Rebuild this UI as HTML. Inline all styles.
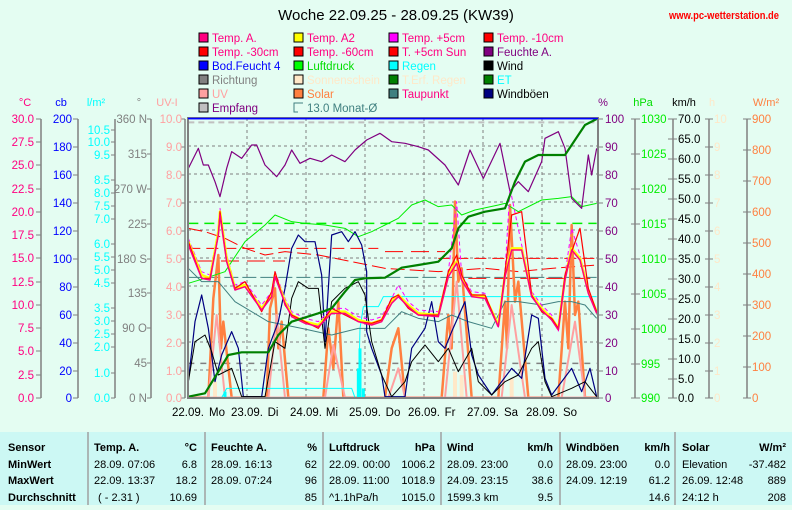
<!DOCTYPE html>
<html><head><meta charset="utf-8"><style>
html,body{margin:0;padding:0;background:#e4fdf2;}
body{width:792px;height:505px;overflow:hidden;position:relative;font-family:"Liberation Sans",sans-serif;}
svg text{font-family:"Liberation Sans",sans-serif;}
</style></head><body>
<svg width="792" height="505" viewBox="0 0 792 505" xmlns="http://www.w3.org/2000/svg">
<rect width="792" height="505" fill="#e4fdf2"/>
<text x="396" y="20" font-size="15" text-anchor="middle" fill="#000">Woche 22.09.25 - 28.09.25 (KW39)</text>
<text x="779" y="19" font-size="11" font-weight="bold" text-anchor="end" fill="#ff0000" textLength="110" lengthAdjust="spacingAndGlyphs">www.pc-wetterstation.de</text>

<!-- legend -->
<g font-size="11.5" stroke="#000" stroke-width="1">
<rect x="199" y="33" width="9" height="9" fill="#ff0080"/><text x="212" y="42" fill="#ff0080" stroke="none">Temp. A.</text>
<rect x="294" y="33" width="9" height="9" fill="#ffff00"/><text x="307" y="42" fill="#ff0080" stroke="none">Temp. A2</text>
<rect x="389" y="33" width="9" height="9" fill="#ff00ff"/><text x="402" y="42" fill="#ff0080" stroke="none">Temp. +5cm</text>
<rect x="484" y="33" width="9" height="9" fill="#ff0000"/><text x="497" y="42" fill="#ff0080" stroke="none">Temp. -10cm</text>
<rect x="199" y="47" width="9" height="9" fill="#ff0000"/><text x="212" y="56" fill="#ff0080" stroke="none">Temp. -30cm</text>
<rect x="294" y="47" width="9" height="9" fill="#ff0000"/><text x="307" y="56" fill="#ff0080" stroke="none">Temp. -60cm</text>
<rect x="389" y="47" width="9" height="9" fill="#ff0000"/><text x="402" y="56" fill="#ff0080" stroke="none">T. +5cm Sun</text>
<rect x="484" y="47" width="9" height="9" fill="#800080"/><text x="497" y="56" fill="#800080" stroke="none">Feuchte A.</text>
<rect x="199" y="61" width="9" height="9" fill="#0000ff"/><text x="212" y="70" fill="#0000ff" stroke="none">Bod.Feucht 4</text>
<rect x="294" y="61" width="9" height="9" fill="#00ff00"/><text x="307" y="70" fill="#00dd00" stroke="none">Luftdruck</text>
<rect x="389" y="61" width="9" height="9" fill="#00ffff"/><text x="402" y="70" fill="#00ffff" stroke="none">Regen</text>
<rect x="484" y="61" width="9" height="9" fill="#000"/><text x="497" y="70" fill="#000" stroke="none">Wind</text>
<rect x="199" y="75" width="9" height="9" fill="#808080"/><text x="212" y="84" fill="#808080" stroke="none">Richtung</text>
<rect x="294" y="75" width="9" height="9" fill="#ffe8c8"/><text x="307" y="84" fill="#ffe8c8" stroke="none">Sonnenschein</text>
<rect x="389" y="75" width="9" height="9" fill="#008000"/><text x="402" y="84" fill="#ffe8c8" stroke="none">T.Erf. Regen</text>
<rect x="484" y="75" width="9" height="9" fill="#008000"/><text x="497" y="84" fill="#00ffff" stroke="none">ET</text>
<rect x="199" y="89" width="9" height="9" fill="#ffa0a0"/><text x="212" y="98" fill="#ffa0a0" stroke="none">UV</text>
<rect x="294" y="89" width="9" height="9" fill="#ff8040"/><text x="307" y="98" fill="#ff8040" stroke="none">Solar</text>
<rect x="389" y="89" width="9" height="9" fill="#408080"/><text x="402" y="98" fill="#ff0080" stroke="none">Taupunkt</text>
<rect x="484" y="89" width="9" height="9" fill="#000080"/><text x="497" y="98" fill="#000" stroke="none">Windböen</text>
<rect x="199" y="103" width="9" height="9" fill="#c0c0c0"/><text x="212" y="112" fill="#800080" stroke="none">Empfang</text>
<path d="M303 103 H294 V112 H298" fill="none" stroke="#408080"/><text x="307" y="112" fill="#408080" stroke="none">13.0 Monat-Ø</text>
</g>

<!-- axis headers -->
<g font-size="11">
<text x="25" y="106" fill="#ff0080" text-anchor="middle">°C</text>
<text x="61" y="106" fill="#0000ff" text-anchor="middle">cb</text>
<text x="96" y="106" fill="#00ffff" text-anchor="middle">l/m²</text>
<text x="139" y="106" fill="#808080" text-anchor="middle">°</text>
<text x="167" y="106" fill="#ffa0a0" text-anchor="middle">UV-I</text>
<text x="603" y="106" fill="#800080" text-anchor="middle">%</text>
<text x="643" y="106" fill="#00dd00" text-anchor="middle">hPa</text>
<text x="684" y="106" fill="#000" text-anchor="middle">km/h</text>
<text x="712" y="106" fill="#ffe8c8" text-anchor="middle">h</text>
<text x="766" y="106" fill="#ff8040" text-anchor="middle">W/m²</text>
</g>

<!-- plot -->
<rect x="188" y="118" width="410" height="280" fill="#e4fdf2"/>
<g stroke="#808080" stroke-dasharray="3,3" stroke-width="1">
<path d="M188 146H598M188 174H598M188 202H598M188 230H598M188 258H598M188 286H598M188 314H598M188 342H598M188 370H598"/>
<path d="M247 118V398M306 118V398M365 118V398M424 118V398M483 118V398M542 118V398"/>
</g>

<g transform="translate(185,115) scale(0.33333)" fill="none" stroke-linejoin="round">
<path d="M10 22 L1235 22" stroke="#c0c0c0" stroke-width="2" stroke-dasharray="6,4" vector-effect="non-scaling-stroke"/>
<path d="M10 10 L1235 10" stroke="#0000ff" stroke-width="2" vector-effect="non-scaling-stroke"/>
<path d="M10 325 L1235 325" stroke="#00ee00" stroke-width="1.5" stroke-dasharray="10,6" vector-effect="non-scaling-stroke"/>
<path d="M10 487 L1235 487" stroke="#408080" stroke-width="1" stroke-dasharray="14,4" vector-effect="non-scaling-stroke"/>
<path d="M10 745 L1235 745" stroke="#808080" stroke-width="1.5" stroke-dasharray="6,6" vector-effect="non-scaling-stroke"/>
<path d="M10 400 L580 400 M760 430 L1235 430" stroke="#ff0000" stroke-width="1" stroke-dasharray="12,6" vector-effect="non-scaling-stroke"/>
<path d="M10 340 L60 350 L120 370 L180 400 L240 420 L300 410 L400 420 L500 440 L600 460 L760 470 L900 460 L1000 470 L1100 460 L1235 450" stroke="#ff0000" stroke-width="1" stroke-dasharray="14,5" vector-effect="non-scaling-stroke"/>
<path d="M30 438 L300 438 M600 410 L780 410 M850 490 L1235 490" stroke="#ff0000" stroke-width="1" stroke-dasharray="18,8" vector-effect="non-scaling-stroke"/>
<path d="M90 848 V800 M810 848 V770 M830 848 V780 M980 848 V790 M250 848 V800" stroke="#ffe8c8" stroke-width="4" vector-effect="non-scaling-stroke"/>
<path d="M10 848 L70 848 L85 550 L100 420 L108 700 L115 620 L140 848 L245 848 L255 580 L270 520 L280 700 L290 620 L310 848 L415 848 L430 640 L445 760 L460 560 L475 848 L600 848 L620 700 L640 640 L660 848 L770 848 L790 600 L800 700 L810 260 L820 500 L830 460 L860 848 L940 848 L960 560 L966 700 L975 270 L990 560 L1000 500 L1030 848 L1120 848 L1140 560 L1150 700 L1160 330 L1170 600 L1180 560 L1200 848 L1235 848" stroke="#ff8040" stroke-width="2.5" vector-effect="non-scaling-stroke"/>
<path d="M70 848 L95 600 L120 848 L250 848 L275 600 L300 848 L420 848 L445 690 L480 848 L610 848 L640 760 L660 848 L780 848 L815 500 L845 848 L950 848 L980 570 L1020 848 L1130 848 L1170 620 L1200 848" stroke="#ffa0a0" stroke-width="2" vector-effect="non-scaling-stroke"/>
<path d="M10 848 L1235 848" stroke="#ffa0a0" stroke-width="2" vector-effect="non-scaling-stroke"/>
<path d="M10 848 L110 848 L125 820 L500 820 L510 848 L520 848 L525 640 L535 575 L580 575 L595 545 L1235 545" stroke="#00ffff" stroke-width="1" vector-effect="non-scaling-stroke"/>
<path d="M520 848 V760 M525 848 V700 M535 848 V820 M120 848 V830" stroke="#00ffff" stroke-width="3" vector-effect="non-scaling-stroke"/>
<path d="M10 460 L50 500 L100 500 L150 560 L250 620 L350 640 L440 660 L520 640 L600 640 L650 590 L700 610 L760 620 L800 600 L850 620 L920 640 L960 560 L1000 560 L1070 570 L1120 560 L1160 560 L1200 570 L1235 610" stroke="#408080" stroke-width="1" vector-effect="non-scaling-stroke"/>
<path d="M10 505 L60 490 L120 470 L180 380 L240 330 L270 300 L320 320 L360 325 L420 330 L480 340 L520 365 L560 350 L600 330 L640 310 L680 270 L720 255 L760 275 L800 270 L830 300 L870 285 L940 270 L960 265 L1000 290 L1070 255 L1120 250 L1160 245 L1190 275 L1235 265" stroke="#00ee00" stroke-width="1" vector-effect="non-scaling-stroke"/>
<path d="M10 160 L25 130 L40 100 L55 150 L70 150 L90 200 L105 245 L125 160 L140 110 L170 130 L200 90 L215 90 L240 150 L275 185 L300 150 L320 105 L345 145 L375 130 L410 140 L440 120 L480 140 L510 105 L545 75 L585 55 L620 80 L660 85 L700 95 L730 105 L780 150 L820 210 L855 105 L895 190 L945 85 L975 230 L1000 200 L1030 230 L1070 140 L1080 70 L1120 50 L1140 100 L1160 250 L1190 280 L1210 120 L1220 180 L1235 100" stroke="#800080" stroke-width="1.2" vector-effect="non-scaling-stroke"/>
<path d="M10 800 L30 620 L50 540 L70 640 L90 800 L110 720 L140 650 L160 700 L175 845 L230 845 L250 700 L280 620 L300 520 L320 400 L340 360 L360 380 L390 380 L410 480 L420 680 L440 360 L470 350 L490 380 L510 350 L530 390 L545 470 L545 650 L560 700 L590 780 L600 845 L660 845 L680 700 L720 640 L740 560 L760 680 L780 700 L800 650 L840 560 L860 720 L880 780 L920 840 L950 800 L980 760 L1010 790 L1040 600 L1060 610 L1080 790 L1100 840 L1160 760 L1190 830 L1215 760 L1235 845" stroke="#000080" stroke-width="1.2" vector-effect="non-scaling-stroke"/>
<path d="M10 800 L30 680 L60 660 L80 710 L100 780 L140 760 L170 845 L240 845 L270 680 L300 700 L320 550 L340 500 L370 520 L400 520 L420 700 L440 560 L480 520 L520 500 L540 540 L560 680 L590 780 L620 845 L660 800 L680 740 L720 690 L760 740 L790 700 L820 770 L860 700 L880 800 L920 840 L960 800 L1000 780 L1040 700 L1060 680 L1080 800 L1100 845 L1160 820 L1200 800 L1235 845" stroke="#000" stroke-width="1" vector-effect="non-scaling-stroke"/>
<path d="M10 370 L50 470 L75 480 L100 340 L105 280 L125 420 L150 510 L180 500 L230 570 L260 530 L270 470 L300 550 L320 590 L360 610 L400 620 L440 580 L480 580 L520 605 L560 615 L590 605 L620 550 L640 510 L670 560 L700 585 L760 590 L790 470 L815 260 L830 480 L860 530 L900 535 L940 640 L960 470 L975 220 L1010 390 L1040 530 L1070 570 L1100 600 L1120 650 L1140 480 L1160 340 L1185 420 L1210 520 L1235 590" stroke="#ff00ff" stroke-width="1" stroke-dasharray="4,3" vector-effect="non-scaling-stroke"/>
<path d="M10 380 L50 480 L75 490 L100 350 L105 290 L125 430 L150 520 L180 510 L230 580 L260 540 L270 480 L300 560 L320 600 L360 620 L400 630 L440 590 L480 590 L520 615 L560 625 L590 615 L620 560 L640 540 L670 570 L700 595 L760 600 L790 480 L815 440 L830 490 L860 540 L900 545 L940 630 L960 480 L980 400 L1010 400 L1040 540 L1070 580 L1100 610 L1120 640 L1140 490 L1160 400 L1185 430 L1210 530 L1235 590" stroke="#ffff00" stroke-width="2.5" vector-effect="non-scaling-stroke"/>
<path d="M10 380 L50 490 L75 490 L100 360 L105 290 L125 440 L150 520 L180 500 L230 590 L260 530 L270 470 L300 570 L320 600 L360 620 L400 640 L440 580 L480 600 L520 620 L560 625 L590 615 L620 550 L640 540 L670 580 L700 600 L760 600 L790 470 L815 420 L830 480 L860 540 L900 540 L940 635 L960 470 L980 300 L1010 290 L1040 540 L1070 590 L1100 610 L1120 640 L1140 480 L1160 410 L1185 340 L1210 520 L1235 590" stroke="#ff0000" stroke-width="1.2" vector-effect="non-scaling-stroke"/>
<path d="M10 390 L50 490 L75 495 L100 360 L105 300 L125 440 L150 525 L180 515 L230 585 L260 545 L270 485 L300 565 L320 605 L360 625 L400 635 L440 595 L480 595 L520 620 L560 630 L590 620 L620 565 L640 545 L670 575 L700 600 L760 605 L790 485 L815 445 L830 495 L860 545 L900 550 L940 635 L960 485 L980 405 L1010 405 L1040 545 L1070 585 L1100 615 L1120 645 L1140 495 L1160 405 L1185 435 L1210 535 L1235 595" stroke="#ff0080" stroke-width="1.5" vector-effect="non-scaling-stroke"/>
<path d="M10 845 L60 835 L100 770 L130 720 L170 712 L250 712 L280 660 L320 620 L400 595 L440 580 L480 530 L510 495 L540 490 L600 488 L650 458 L700 450 L760 440 L800 400 L820 340 L850 305 L900 290 L960 280 L990 200 L1020 140 L1060 120 L1140 120 L1160 90 L1200 30 L1235 12" stroke="#008000" stroke-width="2.2" vector-effect="non-scaling-stroke"/>
</g>
<rect x="188" y="118" width="410" height="280" fill="none" stroke="#808080" stroke-width="2"/>
<path d="M188 118.5 H598" stroke="#0000ff" stroke-width="1.5"/>

<!-- axes -->
<g stroke="#808080" stroke-width="1.5">
<path d="M41 119V398M78 119V398M115 119V398M151 119V398M185 119V398"/>
<path d="M635 119V398M673 119V398M709 119V398M747 119V398"/>
</g>
<g stroke="#808080" stroke-width="1">
<path d="M36 119H41M36 142H41M36 165H41M36 189H41M36 212H41M36 235H41M36 258H41M36 282H41M36 305H41M36 328H41M36 351H41M36 375H41M36 398H41"/>
<path d="M73 119H78M73 147H78M73 175H78M73 203H78M73 231H78M73 259H78M73 287H78M73 315H78M73 343H78M73 371H78M73 398H78"/>
<path d="M111 130H115M111 142H115M111 155H115M111 180H115M111 193H115M111 206H115M111 219H115M111 244H115M111 257H115M111 270H115M111 283H115M111 308H115M111 321H115M111 334H115M111 347H115M111 373H115M111 398H115"/>
<path d="M147 119H151M147 154H151M147 189H151M147 224H151M147 259H151M147 293H151M147 328H151M147 363H151M147 398H151"/>
<path d="M181 119H185M181 147H185M181 175H185M181 203H185M181 231H185M181 259H185M181 287H185M181 315H185M181 343H185M181 371H185M181 398H185"/>
<path d="M598 119H603M598 147H603M598 175H603M598 203H603M598 231H603M598 259H603M598 287H603M598 315H603M598 343H603M598 371H603M598 398H603"/>
<path d="M631 119H640M631 154H640M631 189H640M631 224H640M631 259H640M631 294H640M631 329H640M631 364H640M631 398H640"/>
<path d="M668 119H677M668 139H677M668 159H677M668 179H677M668 199H677M668 219H677M668 239H677M668 259H677M668 279H677M668 299H677M668 319H677M668 339H677M668 359H677M668 379H677M668 398H677"/>
<path d="M705 119H713M705 147H713M705 175H713M705 203H713M705 231H713M705 259H713M705 287H713M705 315H713M705 343H713M705 371H713M705 398H713"/>
<path d="M743 119H751M743 150H751M743 181H751M743 212H751M743 243H751M743 274H751M743 305H751M743 336H751M743 367H751M743 398H751"/>
</g>
<g font-size="11.5" text-anchor="end">
<g fill="#ff0080">
<text x="34" y="123">30.0</text><text x="34" y="146">27.5</text><text x="34" y="169">25.0</text><text x="34" y="193">22.5</text><text x="34" y="216">20.0</text><text x="34" y="239">17.5</text><text x="34" y="262">15.0</text><text x="34" y="286">12.5</text><text x="34" y="309">10.0</text><text x="34" y="332">7.5</text><text x="34" y="355">5.0</text><text x="34" y="379">2.5</text><text x="34" y="402">0.0</text>
</g>
<g fill="#0000ff">
<text x="72" y="123">200</text><text x="72" y="151">180</text><text x="72" y="179">160</text><text x="72" y="207">140</text><text x="72" y="235">120</text><text x="72" y="263">100</text><text x="72" y="291">80</text><text x="72" y="319">60</text><text x="72" y="347">40</text><text x="72" y="375">20</text><text x="72" y="402">0</text>
</g>
<g fill="#00ffff">
<text x="110" y="134">10.5</text><text x="110" y="146">10.0</text><text x="110" y="159">9.5</text><text x="110" y="184">8.5</text><text x="110" y="197">8.0</text><text x="110" y="210">7.5</text><text x="110" y="223">7.0</text><text x="110" y="248">6.0</text><text x="110" y="261">5.5</text><text x="110" y="274">5.0</text><text x="110" y="287">4.5</text><text x="110" y="312">3.5</text><text x="110" y="325">3.0</text><text x="110" y="338">2.5</text><text x="110" y="351">2.0</text><text x="110" y="377">1.0</text><text x="110" y="402">0.0</text>
</g>
<g fill="#808080">
<text x="147" y="123">360 N</text><text x="147" y="158">315</text><text x="147" y="193">270 W</text><text x="147" y="228">225</text><text x="147" y="263">180 S</text><text x="147" y="297">135</text><text x="147" y="332">90  O</text><text x="147" y="367">45</text><text x="147" y="402">0   N</text>
</g>
<g fill="#ffa0a0">
<text x="182" y="123">10.0</text><text x="182" y="151">9.0</text><text x="182" y="179">8.0</text><text x="182" y="207">7.0</text><text x="182" y="235">6.0</text><text x="182" y="263">5.0</text><text x="182" y="291">4.0</text><text x="182" y="319">3.0</text><text x="182" y="347">2.0</text><text x="182" y="375">1.0</text><text x="182" y="402">0.0</text>
</g>
</g>
<g font-size="11.5">
<g fill="#800080">
<text x="605" y="123">100</text><text x="605" y="151">90</text><text x="605" y="179">80</text><text x="605" y="207">70</text><text x="605" y="235">60</text><text x="605" y="263">50</text><text x="605" y="291">40</text><text x="605" y="319">30</text><text x="605" y="347">20</text><text x="605" y="375">10</text><text x="605" y="402">0</text>
</g>
<g fill="#00ee00">
<text x="641" y="123">1030</text><text x="641" y="158">1025</text><text x="641" y="193">1020</text><text x="641" y="228">1015</text><text x="641" y="263">1010</text><text x="641" y="298">1005</text><text x="641" y="333">1000</text><text x="641" y="368">995</text><text x="641" y="402">990</text>
</g>
<g fill="#000">
<text x="678" y="123">70.0</text><text x="678" y="143">65.0</text><text x="678" y="163">60.0</text><text x="678" y="183">55.0</text><text x="678" y="203">50.0</text><text x="678" y="223">45.0</text><text x="678" y="243">40.0</text><text x="678" y="263">35.0</text><text x="678" y="283">30.0</text><text x="678" y="303">25.0</text><text x="678" y="323">20.0</text><text x="678" y="343">15.0</text><text x="678" y="363">10.0</text><text x="678" y="383">5.0</text><text x="678" y="402">0.0</text>
</g>
<g fill="#ffe8c8">
<text x="714" y="123">10</text><text x="714" y="151">9</text><text x="714" y="179">8</text><text x="714" y="207">7</text><text x="714" y="235">6</text><text x="714" y="263">5</text><text x="714" y="291">4</text><text x="714" y="319">3</text><text x="714" y="347">2</text><text x="714" y="375">1</text><text x="714" y="402">0</text>
</g>
<g fill="#ff8040">
<text x="752" y="123">900</text><text x="752" y="154">800</text><text x="752" y="185">700</text><text x="752" y="216">600</text><text x="752" y="247">500</text><text x="752" y="278">400</text><text x="752" y="309">300</text><text x="752" y="340">200</text><text x="752" y="371">100</text><text x="752" y="402">0</text>
</g>
</g>

<!-- x labels -->
<g font-size="11.5" text-anchor="middle" fill="#000">
<text x="188" y="416">22.09.</text><text x="217" y="416">Mo</text>
<text x="247" y="416">23.09.</text><text x="273" y="416">Di</text>
<text x="306" y="416">24.09.</text><text x="332" y="416">Mi</text>
<text x="365" y="416">25.09.</text><text x="393" y="416">Do</text>
<text x="424" y="416">26.09.</text><text x="450" y="416">Fr</text>
<text x="483" y="416">27.09.</text><text x="511" y="416">Sa</text>
<text x="542" y="416">28.09.</text><text x="570" y="416">So</text>
</g>

<!-- table -->
<rect x="0" y="432" width="792" height="73" fill="#ccf8f4"/>
<g stroke="#a0a0a0" stroke-width="1.5">
<path d="M88 432V505M205 432V505M323 432V505M441 432V505M560 432V505M675 432V505"/>
</g>
<g font-size="11" fill="#000">
<g font-weight="bold">
<text x="8" y="451">Sensor</text><text x="8" y="468">MinWert</text><text x="8" y="484">MaxWert</text><text x="8" y="501">Durchschnitt</text>
<text x="94" y="451">Temp. A.</text><text x="197" y="451" text-anchor="end">°C</text>
<text x="211" y="451">Feuchte A.</text><text x="317" y="451" text-anchor="end">%</text>
<text x="329" y="451">Luftdruck</text><text x="435" y="451" text-anchor="end">hPa</text>
<text x="447" y="451">Wind</text><text x="553" y="451" text-anchor="end">km/h</text>
<text x="566" y="451">Windböen</text><text x="670" y="451" text-anchor="end">km/h</text>
<text x="682" y="451">Solar</text><text x="786" y="451" text-anchor="end">W/m²</text>
</g>
<text x="94" y="468">28.09.  07:06</text><text x="197" y="468" text-anchor="end">6.8</text>
<text x="94" y="484">22.09.  13:37</text><text x="197" y="484" text-anchor="end">18.2</text>
<text x="98" y="501">( - 2.31 )</text><text x="197" y="501" text-anchor="end">10.69</text>
<text x="211" y="468">28.09.  16:13</text><text x="317" y="468" text-anchor="end">62</text>
<text x="211" y="484">28.09.  07:24</text><text x="317" y="484" text-anchor="end">96</text>
<text x="317" y="501" text-anchor="end">85</text>
<text x="329" y="468">22.09.  00:00</text><text x="435" y="468" text-anchor="end">1006.2</text>
<text x="329" y="484">28.09.  11:00</text><text x="435" y="484" text-anchor="end">1018.9</text>
<text x="329" y="501">^1.1hPa/h</text><text x="435" y="501" text-anchor="end">1015.0</text>
<text x="447" y="468">28.09.  23:00</text><text x="553" y="468" text-anchor="end">0.0</text>
<text x="447" y="484">24.09.  23:15</text><text x="553" y="484" text-anchor="end">38.6</text>
<text x="447" y="501">1599.3 km</text><text x="553" y="501" text-anchor="end">9.5</text>
<text x="566" y="468">28.09.  23:00</text><text x="670" y="468" text-anchor="end">0.0</text>
<text x="566" y="484">24.09.  12:19</text><text x="670" y="484" text-anchor="end">61.2</text>
<text x="670" y="501" text-anchor="end">14.6</text>
<text x="682" y="468">Elevation</text><text x="786" y="468" text-anchor="end">-37.482</text>
<text x="682" y="484">26.09.  12:48</text><text x="786" y="484" text-anchor="end">889</text>
<text x="682" y="501">24:12 h</text><text x="786" y="501" text-anchor="end">208</text>
</g>
</svg>
</body></html>
